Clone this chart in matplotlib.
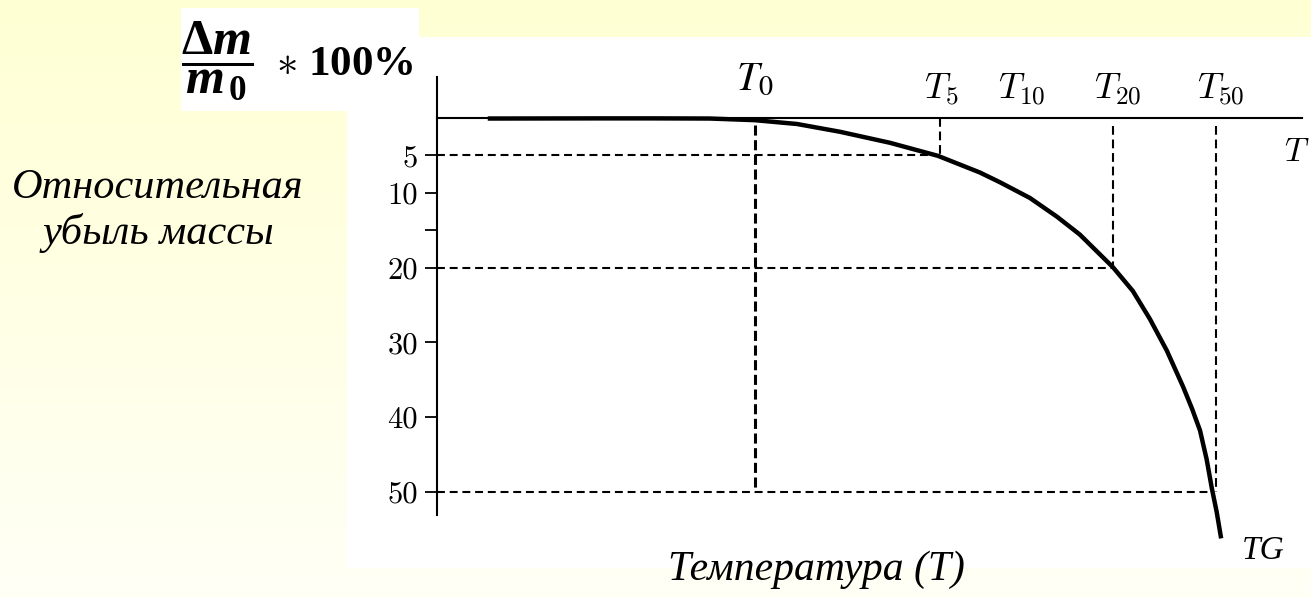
import matplotlib
matplotlib.use("Agg")
import matplotlib.pyplot as plt
import numpy as np
from matplotlib.colors import LinearSegmentedColormap
from matplotlib.patches import Rectangle

# TG curve (temperature in arbitrary units, mass loss in %)
temperature = [18.4, 56.5, 74.9, 94.7, 110.3, 124.9, 139.8, 157.1, 173.8, 188.3, 195.3,
               205.7, 215.1, 223.0, 234.5, 241.4, 247.3, 253.2, 258.8, 261.9, 264.7,
               267.0, 268.8, 270.5, 271.9]
mass_loss = [0.07, 0.05, 0.05, 0.07, 0.29, 0.80, 1.84, 3.31, 5.06, 7.28, 8.59,
             10.69, 13.2, 15.58, 19.95, 23.13, 26.86, 31.11, 35.9, 38.83, 41.77,
             45.63, 49.5, 52.7, 55.91]

# characteristic temperatures
t_onset = 110.3
mark_levels = [5, 20, 50]
t_cross = [173.8, 234.5, 269.1]       # where the curve reaches 5, 20, 50 %
t_marks = [174.5, 234.5, 270.3]       # T5, T20, T50 guides
mark_start = [0.0, 1.1, 1.1]
t_labels = [r"$T_{5}$", r"$T_{10}$", r"$T_{20}$", r"$T_{50}$"]
t_label_pos = [175.0, 203.0, 236.0, 272.0]

y_ticks = [5, 10, 15, 20, 30, 40, 50]
y_tick_labels = ["5", "10", "", "20", "30", "40", "50"]
t_axis_end = 300

plt.rcParams["mathtext.fontset"] = "custom"
plt.rcParams["mathtext.rm"] = "Liberation Serif:bold"
plt.rcParams["mathtext.it"] = "Liberation Serif:italic:bold"
plt.rcParams["mathtext.bf"] = "Liberation Serif:bold"

W, H = 1311, 598
fig = plt.figure(figsize=(W / 100, H / 100), dpi=100)

# pale yellow slide background
bg = fig.add_axes([0, 0, 1, 1], zorder=-2)
cmap = LinearSegmentedColormap.from_list("slide", ["#fffff6", "#ffffd4"])
bg.imshow(np.linspace(0, 1, 256).reshape(-1, 1), cmap=cmap, aspect="auto",
          extent=[0, 1, 0, 1], origin="lower")
bg.axis("off")

ax = fig.add_axes([347 / W, 30 / H, 964 / W, 531 / H], zorder=0)
ax.set_facecolor("white")
ax.set_xlim(-31.2, 303.2)
ax.set_ylim(60.16, -10.83)

for side in ["bottom", "right"]:
    ax.spines[side].set_visible(False)
ax.spines["left"].set_position(("data", 0))
ax.spines["left"].set_bounds(-5.5, 53.1)
ax.spines["left"].set_linewidth(1.5)
ax.spines["top"].set_position(("data", 0))
ax.spines["top"].set_bounds(0, t_axis_end)
ax.spines["top"].set_linewidth(1.5)

ax.set_xticks([])
ax.set_yticks(y_ticks, y_tick_labels)
ax.tick_params(axis="y", direction="out", length=8.5, width=1.3, pad=5, labelsize=22)
for lab in ax.get_yticklabels():
    lab.set_fontfamily("cmr10")

# dashed guides
ax.hlines(mark_levels, 0, t_cross, colors="black", lw=1.5, linestyles=(0, (3.8, 2.3)))
ax.vlines(t_marks, mark_start, mark_levels, colors="black", lw=1.5,
          linestyles=(0, (4.2, 2.3)))
ax.vlines(t_onset, 1.0, mark_levels[-1], colors="black", lw=2.2,
          linestyles=(0, (3.3, 1.5)))

ax.plot(temperature, mass_loss, color="black", lw=3.2, solid_joinstyle="round")

# labels of the characteristic temperatures
ax.text(t_onset, -2.6, r"$\mathit{T}_{\mathit{0}}$", math_fontfamily="stix",
        fontsize=29, ha="center", va="bottom")
for lbl, xpos in zip(t_labels, t_label_pos):
    ax.text(xpos, -1.3, lbl, math_fontfamily="cm", fontsize=26, ha="center", va="bottom")
ax.text(293.8, 5.8, r"$T$", math_fontfamily="cm", fontsize=24, ha="left", va="baseline")
ax.text(279.2, 58.9, "TG", family="Liberation Serif", style="italic", fontsize=24,
        ha="left", va="baseline")

# formula in its white box
fig.add_artist(Rectangle((181 / W, 1 - 111 / H), 238 / W, 103 / H,
                         transform=fig.transFigure, facecolor="white",
                         edgecolor="none", zorder=2))
fig.text(181 / W, 1 - 61 / H, r"$\dfrac{\Delta m}{m_{\,0}}$", fontsize=36,
         ha="left", va="center", zorder=3)
fig.text(276 / W, 1 - 75 / H, r"$\ast$ 100%", family="Liberation Serif",
         weight="bold", fontsize=31, ha="left", va="baseline", zorder=3)

fig.text(158 / W, 1 - 211 / H, "Относительная\nубыль массы", family="Liberation Serif",
         style="italic", fontsize=30.5, ha="center", va="center", linespacing=1.18)
fig.text(816 / W, 1 - 580 / H, "Температура (Т)", family="Liberation Serif",
         style="italic", fontsize=30, ha="center", va="baseline")

fig.savefig("out.png", dpi=100)
